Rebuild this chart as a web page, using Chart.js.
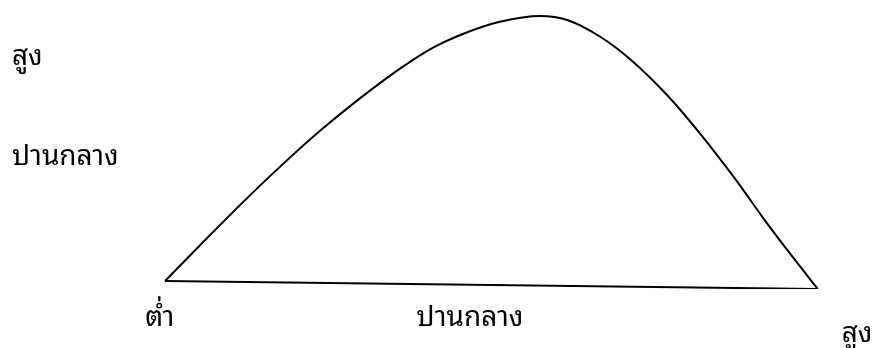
<!DOCTYPE html>
<html>
<head>
<meta charset="utf-8">
<script src="https://cdn.jsdelivr.net/npm/chart.js@4"></script>
<style>
    body { margin: 0; background: #fff; }
    #box { width: 877px; height: 348px; }
</style>
</head>
<body>
<div id="box"><canvas id="grafico"></canvas></div>
<script>
// curva (x: 0 = ต่ำ, 100 = สูง)
var curvaX = [0, 5.4, 11.5, 17.6, 23.7, 29.9, 36.0, 41.0, 46.3, 51.3, 57.5, 61.6, 66.6, 71.2, 76.9, 81.9, 87.0, 92.2, 96.2, 100];
var curvaY = [2.8, 15.5, 29.6, 43.0, 55.6, 67.2, 77.6, 84.9, 90.4, 94.1, 96.1, 94.7, 88.9, 81.0, 68.3, 54.9, 39.8, 23.2, 11.1, 0];

// linha de base
var baseX = [0, 100];
var baseY = [2.8, 0];

// rotulos dos eixos
var xTicks = [-0.8, 46.7, 106];
var xLabels = ['ต่ำ', 'ปานกลาง', 'สูง'];
var yTicks = [46.5, 81.7];
var yLabels = ['ปานกลาง', 'สูง'];

var fonte = "'Noto Sans Thai Looped', Loma, Garuda, 'Noto Sans Thai', sans-serif";

function pontos(xs, ys) {
    return xs.map(function(x, i) {
        return { x: x, y: ys[i] };
    });
}

var ctx = document.getElementById('grafico').getContext('2d');

var grafico = new Chart(ctx, {
    type: 'line',
    data: {
        datasets: [{
            data: pontos(curvaX, curvaY),
            borderColor: '#000',
            borderWidth: 2,
            pointRadius: 0,
            cubicInterpolationMode: 'monotone',
            fill: false
        }, {
            data: pontos(baseX, baseY),
            borderColor: '#000',
            borderWidth: 2,
            pointRadius: 0,
            fill: false
        }]
    },
    options: {
        responsive: true,
        maintainAspectRatio: false,
        animation: false,
        layout: {
            padding: { left: 12, right: 20, top: 5, bottom: 0 }
        },
        plugins: {
            legend: { display: false },
            tooltip: { enabled: false }
        },
        scales: {
            x: {
                type: 'linear',
                min: -1,
                max: 106,
                grid: { display: false, drawTicks: false },
                border: { display: false },
                afterBuildTicks: function(scale) {
                    scale.ticks = xTicks.map(function(v) { return { value: v }; });
                },
                afterFit: function(scale) {
                    scale.height = 59;
                    scale.paddingLeft = 0;
                    scale.paddingRight = 0;
                },
                ticks: {
                    autoSkip: false,
                    maxRotation: 0,
                    padding: 15,
                    color: '#000',
                    font: function(context) {
                        // o ultimo rotulo fica um pouco mais baixo
                        var extra = context.index === 2 ? 32 : 0;
                        return { family: fonte, size: 28, lineHeight: (28 + extra) + 'px' };
                    },
                    callback: function(value, index) {
                        return xLabels[index];
                    }
                }
            },
            y: {
                type: 'linear',
                min: 0,
                max: 100,
                grid: { display: false, drawTicks: false },
                border: { display: false },
                afterBuildTicks: function(scale) {
                    scale.ticks = yTicks.map(function(v) { return { value: v }; });
                },
                afterFit: function(scale) {
                    scale.width = 146.5;
                    scale.paddingTop = 0;
                    scale.paddingBottom = 0;
                },
                ticks: {
                    autoSkip: false,
                    crossAlign: 'far',
                    color: '#000',
                    font: { family: fonte, size: 28 },
                    callback: function(value, index) {
                        return yLabels[index];
                    }
                }
            }
        }
    }
});
</script>
</body>
</html>
